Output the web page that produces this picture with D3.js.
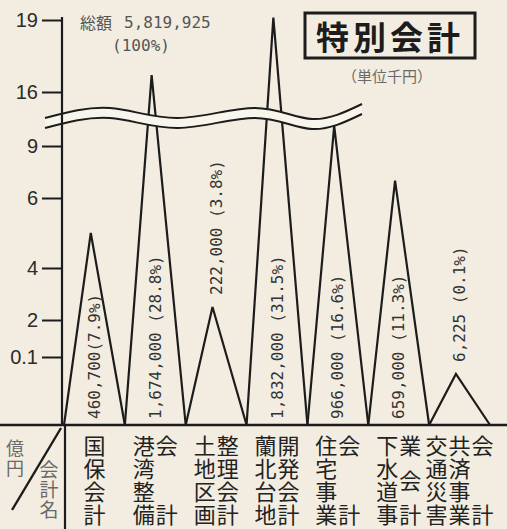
<!DOCTYPE html>
<meta charset="utf-8">
<style>
body { margin: 0; background: #f2ede0; }
.spike { fill: none; stroke: #1c1c1c; stroke-width: 2.2; stroke-linejoin: miter; }
.vlab { font-family: "DejaVu Sans Mono", monospace; font-size: 16px; fill: #333; }
.cat { font-family: "Noto Sans CJK JP", sans-serif; font-size: 22px; fill: #222; }
.gray { font-family: "Noto Sans CJK JP", sans-serif; fill: #6a6a6a; }
</style>
<svg width="507" height="529"></svg>
<script src="https://cdn.jsdelivr.net/npm/d3@7"></script>
<script>

var categories = ["国保会計", "港湾整備会計", "土地区画整理会計", "蘭北台地開発会計",
                  "住宅事業会計", "下水道事業会計", "交通災害共済事業会計"];
// how each name is set in vertical columns (full-width space = empty slot)
var nameColumns = [["国保会計"], ["港湾整備", "会　　計"], ["土地区画", "整理会計"],
                   ["蘭北台地", "開発会計"], ["住宅事業", "会　　計"],
                   ["下水道事", "業　会　計"], ["交通災害", "共済事業", "会　　計"]];
var valueLabels = ["460,700(7.9%)", "1,674,000 (28.8%)", "222,000 (3.8%)", "1,832,000 (31.5%)",
                   "966,000 (16.6%)", "659,000 (11.3%)", "6,225 (0.1%)"];
// spike heights in 億円 as drawn against the (broken) axis
var peaks = [5.0, 16.7, 2.5, 19.1, 11.6, 7.0, 0.075];
var yTicks = [0.1, 2, 4, 6, 9, 16, 19];

var svg = d3.select("svg");

svg.append("rect").attr("width", 507).attr("height", 529).attr("fill", "#f2ede0");

var x = d3.scaleBand().domain(categories).range([64, 490]);
// piecewise axis, as printed
var y = d3.scaleLinear()
    .domain([0, 0.1, 2, 4, 6, 9, 16, 19])
    .range([425, 357, 320, 268, 198, 146, 92, 20]);

// spikes
svg.selectAll(".spike")
  .data(categories)
  .enter().append("path")
    .attr("class", "spike")
    .attr("d", function(d, i) {
      var x0 = x(d), x1 = x(d) + x.bandwidth(), xp = x(d) + x.bandwidth() * 0.44;
      return "M" + x0 + "," + y(0) + "L" + xp + "," + y(peaks[i]) + "L" + x1 + "," + y(0);
    });

// break band
var yb = (y(9) + y(16)) / 2;
var wave = [[45, 0], [110, -10], [178, 0], [255, -10], [312, 1], [362, -14]];
var band = d3.area().curve(d3.curveNatural)
    .x(function(p) { return p[0]; })
    .y0(function(p) { return yb + p[1] - 1; })
    .y1(function(p) { return yb + p[1] + 9; });
svg.append("path").attr("d", band(wave)).attr("fill", "#f8f5ec");
[-1, 9].forEach(function(off) {
  var line = d3.line().curve(d3.curveNatural)
      .x(function(p) { return p[0]; })
      .y(function(p) { return yb + p[1] + off; });
  svg.append("path").attr("d", line(wave))
      .attr("fill", "none").attr("stroke", "#1c1c1c").attr("stroke-width", 2);
});

// y axis
var axis = svg.append("g")
    .attr("transform", "translate(62,0)")
    .call(d3.axisLeft(y).tickValues(yTicks).tickSize(20).tickSizeOuter(0).tickPadding(4)
      .tickFormat(function(d) { return d; }));
axis.select(".domain").attr("stroke", "#1c1c1c").attr("stroke-width", 2.2)
    .attr("d", "M0," + (y(19) - 3) + "V" + y(0));
axis.selectAll(".tick line").attr("stroke", "#1c1c1c").attr("stroke-width", 2);
axis.selectAll(".tick text")
    .attr("font-family", "Liberation Sans, sans-serif").attr("font-size", 20)
    .attr("fill", "#2a2a2a");

// value labels: inside the tall spikes, above the short ones
svg.selectAll(".vlab")
  .data(valueLabels)
  .enter().append("text")
    .attr("class", "vlab")
    .attr("transform", function(d, i) {
      var cx = x(categories[i]) + x.bandwidth() / 2;
      var yp = y(peaks[i]);
      var yy = yp > 280 ? yp - 12 : 419;
      return "translate(" + cx + "," + yy + ") rotate(-90)";
    })
    .attr("dominant-baseline", "central")
    .text(function(d) { return d; });

// baseline and table lines
svg.append("line").attr("x1", 0).attr("x2", 507).attr("y1", y(0)).attr("y2", y(0))
    .attr("stroke", "#1c1c1c").attr("stroke-width", 2.4);
svg.append("line").attr("x1", 65).attr("x2", 65).attr("y1", y(0)).attr("y2", 529)
    .attr("stroke", "#1c1c1c").attr("stroke-width", 2.2);
svg.append("line").attr("x1", 12).attr("x2", 61).attr("y1", 510).attr("y2", 428)
    .attr("stroke", "#1c1c1c").attr("stroke-width", 2.4);

// vertical text helper: one <text> per column, one tspan per glyph
function column(x0, y0, step, chars, cls, size) {
  var t = svg.append("text").attr("class", cls).attr("font-size", size)
      .attr("text-anchor", "middle").attr("dominant-baseline", "central");
  chars.forEach(function(c) {
    if (c[0] === "　") return;
    t.append("tspan").attr("x", x0).attr("y", y0 + c[1] * step).text(c[0]);
  });
  return t;
}

// corner labels
column(15, 447, 20, [["億", 0], ["円", 1]], "gray", 18);
column(49, 468, 20, [["会", 0], ["計", 1], ["名", 2]], "gray", 19);

// category names, vertical columns
categories.forEach(function(cat, i) {
  var cols = nameColumns[i], cx = x(cat) + x.bandwidth() / 2;
  cols.forEach(function(col, j) {
    var chars = Array.from(col), n = chars.length;
    var colX = cx + (j - (cols.length - 1) / 2) * 23;
    column(colX, 444, 23, chars.map(function(ch, k) {
      return [ch, n > 1 ? k * 3 / (n - 1) : 0];
    }), "cat", 22);
  });
});

// total
var tot = svg.append("text").attr("x", 80).attr("y", 22)
    .attr("dominant-baseline", "central").attr("fill", "#555");
tot.append("tspan").attr("font-family", "Noto Sans CJK JP, sans-serif").attr("font-size", 16).text("総額");
tot.append("tspan").attr("font-family", "DejaVu Sans Mono, monospace").attr("font-size", 16)
    .attr("dx", 12).text("5,819,925");
svg.append("text").attr("x", 141).attr("y", 45).attr("text-anchor", "middle")
    .attr("dominant-baseline", "central").attr("fill", "#555")
    .attr("font-family", "DejaVu Sans Mono, monospace").attr("font-size", 16).text("(100%)");

// title box
svg.append("rect").attr("x", 305).attr("y", 13).attr("width", 170).attr("height", 45)
    .attr("fill", "none").attr("stroke", "#1c1c1c").attr("stroke-width", 3);
svg.append("text").attr("x", 390).attr("y", 36).attr("text-anchor", "middle")
    .attr("dominant-baseline", "central")
    .attr("font-family", "Noto Sans CJK JP, sans-serif").attr("font-weight", 700)
    .attr("font-size", 33).attr("letter-spacing", 4).attr("fill", "#1c1c1c").text("特別会計");
svg.append("text").attr("class", "gray").attr("x", 387).attr("y", 75)
    .attr("text-anchor", "middle").attr("dominant-baseline", "central")
    .attr("font-size", 15).attr("fill", "#555").text("（単位千円）");

</script>
